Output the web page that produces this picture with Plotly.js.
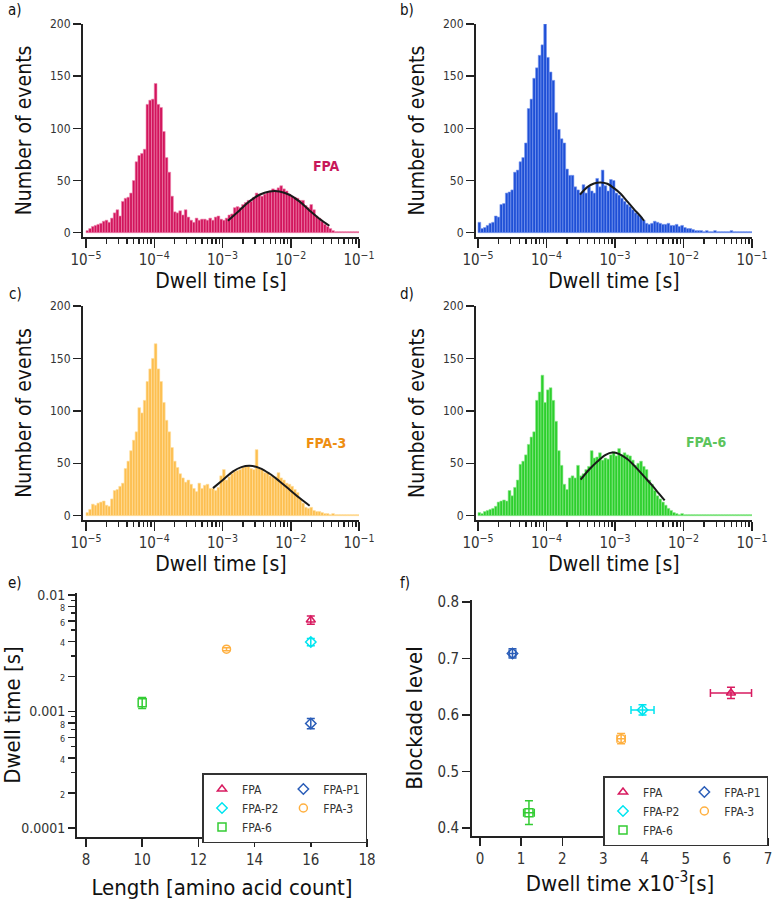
<!DOCTYPE html>
<html>
<head>
<meta charset="utf-8">
<script src="https://cdn.plot.ly/plotly-3.0.1.min.js"></script>
<style>html,body{margin:0;padding:0;background:#fff}#chart{width:774px;height:900px}</style>
</head>
<body>
<div id="chart"></div>
<script>
// ---------- DATA ----------
// Histogram counts: 100 log-spaced bins from 1e-5 s to 1e-1 s (25 bins per decade)
const countsFPA = [
  2,4,6,7,8,9,11,12,10,14,
  19,22,16,30,33,34,38,50,68,74,
  76,80,123,127,128,143,123,120,97,72,
  58,35,20,19,21,17,22,15,12,10,
  14,12,13,13,12,14,12,15,16,13,
  12,14,17,18,24,25,24,27,29,31,
  30,34,38,36,35,37,39,40,42,41,
  43,45,42,40,37,35,34,33,31,31,
  26,24,27,22,16,14,11,8,6,4,
  2,1,1,1,1,1,1,1,1,1];
const countsFPAP1 = [
  10,4,5,7,9,10,16,15,27,28,
  38,39,41,58,60,68,72,86,119,128,
  148,158,170,180,200,168,154,146,115,99,
  90,86,61,55,55,44,41,38,46,38,
  44,40,38,52,44,60,45,40,51,50,
  38,36,33,30,27,25,22,19,17,15,
  12,9,8,9,11,10,9,8,8,9,
  7,7,8,6,7,5,4,4,3,2,
  2,2,1,2,1,1,2,1,1,1,
  1,1,2,1,1,1,1,1,1,1];
const countsFPA3 = [
  3,6,11,10,12,13,14,10,9,16,
  24,25,28,31,45,52,62,72,80,103,
  98,110,128,140,150,164,140,128,108,91,
  80,65,52,46,40,36,32,34,30,26,
  23,31,26,29,30,26,26,24,27,38,
  44,34,37,40,42,43,44,46,47,47,
  45,44,63,45,44,41,41,38,37,37,
  41,36,34,31,30,28,25,22,16,12,
  8,7,8,5,4,4,3,2,2,1,
  2,1,1,1,1,1,1,1,1,1];
const countsFPA6 = [
  3,2,4,5,6,7,9,13,14,15,
  14,24,19,27,34,49,52,58,68,75,
  80,110,118,134,108,120,122,110,90,62,
  48,30,25,36,38,36,48,38,40,44,
  47,62,55,56,60,53,55,54,58,61,
  57,64,58,60,58,57,53,48,50,52,
  47,44,34,30,24,19,16,13,10,7,
  5,3,2,1,2,1,1,1,1,1,
  1,1,1,1,1,1,1,1,1,1,
  1,1,1,1,1,1,1,1,1,1];

// Fitted curves: dwell time [s], count
const fitFPA_x = [0.0012,0.00177,0.00248,0.00348,0.00488,0.00683,0.00955,0.0134,0.0188,0.0263,0.0368];
const fitFPA_y = [11.5,21.4,30,36.4,39.6,39.6,36.4,30,21.4,13.4,6.7];
const fitP1_x = [0.000308,0.000394,0.000493,0.000618,0.000773,0.000966,0.00121,0.00151,0.00189,0.00237,0.00265];
const fitP1_y = [36.4,43.7,47.2,48.2,46.9,42.7,37.3,30.0,22.6,15.6,11.5];
const fit3_x = [0.000726,0.00102,0.00143,0.00189,0.0025,0.00351,0.00491,0.00689,0.00964,0.0135,0.0189];
const fit3_y = [26.3,34.3,42.2,46.3,47.6,45.4,40,32.7,24.8,16.8,9.5];
const fit6_x = [0.000315,0.000417,0.000552,0.000731,0.000914,0.00114,0.00151,0.002,0.00265,0.00351,0.00439,0.00531];
const fit6_y = [34.3,43.8,51.7,58.1,60.3,59,54,46.3,37.5,28.6,21,14.6];

// Summary panels
const peptides   = ['FPA','FPA-P1','FPA-P2','FPA-3','FPA-6'];
const lengthAA   = [16,16,16,13,10];
const dwellMs    = [6.1,0.79,3.95,3.43,1.19];
const dwellErrMs = [0.5,0.08,0.28,0.1,0.13];
const blockade   = [0.639,0.709,0.609,0.558,0.427];
const blockErr   = [0.010,0.008,0.009,0.009,0.021];

// ---------- STYLE ----------
const W = 774, H = 900;
const FONT = "'DejaVu Sans Condensed', 'DejaVu Sans', sans-serif";
const pepColors  = ['#D81B60','#2A5DB8','#00E5F0','#FFB040','#33CC33'];
const pepSymbols = ['triangle-up-open','diamond-open','diamond-open','circle-open','square-open'];
const pepGroup   = ['c1','c2','c1','c2','c1'];

const BIN_LOG_START = -5, BIN_LOG_WIDTH = 0.04;
function binGeom(n){
  const mid=[], wid=[];
  for(let i=0;i<n;i++){
    const a=Math.pow(10,BIN_LOG_START+BIN_LOG_WIDTH*i), b=Math.pow(10,BIN_LOG_START+BIN_LOG_WIDTH*(i+1));
    mid.push((a+b)/2); wid.push(b-a);
  }
  return {mid,wid};
}
const xd=(a,b)=>[a/W,b/W];
const yd=(top,bot)=>[1-bot/H,1-top/H];

const traces=[];
function hist(counts, fx, fy, ax, fill, edge){
  const g=binGeom(counts.length);
  traces.push({type:'bar', x:g.mid, y:counts, width:g.wid, xaxis:'x'+ax, yaxis:'y'+ax,
    marker:{color:fill, line:{color:edge, width:0.6}}, showlegend:false, hoverinfo:'x+y'});
  traces.push({type:'scatter', mode:'lines', x:fx, y:fy, xaxis:'x'+ax, yaxis:'y'+ax,
    line:{color:'#1a1a1a', width:2, shape:'spline'}, showlegend:false});
}
hist(countsFPA,  fitFPA_x, fitFPA_y, '',  '#D2145C', '#EE86AE');
hist(countsFPAP1,fitP1_x,  fitP1_y,  '2', '#1E4FD6', '#7C9BF0');
hist(countsFPA3, fit3_x,   fit3_y,   '3', '#FDBF50', '#FFDFA0');
hist(countsFPA6, fit6_x,   fit6_y,   '4', '#2CCF2C', '#8FEA8F');

peptides.forEach((p,i)=>{
  traces.push({type:'scatter', mode:'markers', name:p, x:[lengthAA[i]], y:[dwellMs[i]/1000],
    xaxis:'x5', yaxis:'y5', legend:'legend', legendgroup:'e'+pepGroup[i],
    marker:{symbol:pepSymbols[i], color:pepColors[i], size:8, line:{width:1.5}},
    error_y:{type:'data', array:[dwellErrMs[i]/1000], color:pepColors[i], thickness:1.5, width:4}});
});
peptides.forEach((p,i)=>{
  traces.push({type:'scatter', mode:'markers', name:p, x:[dwellMs[i]], y:[blockade[i]],
    xaxis:'x6', yaxis:'y6', legend:'legend2', legendgroup:'f'+pepGroup[i],
    marker:{symbol:pepSymbols[i], color:pepColors[i], size:8, line:{width:1.5}},
    error_x:{type:'data', array:[dwellErrMs[i]], color:pepColors[i], thickness:1.5, width:4},
    error_y:{type:'data', array:[blockErr[i]], color:pepColors[i], thickness:1.5, width:4}});
});

// ---------- AXES ----------
const lineC='#222';
function histX(dom, anchor, r0){
  return {domain:dom, anchor:anchor, type:'log', range:[r0,-1], dtick:1, exponentformat:'power',
    showline:true, linecolor:lineC, linewidth:2, ticks:'outside', ticklen:9, tickwidth:1.5, tickcolor:lineC,
    minor:{dtick:'D1', ticks:'outside', ticklen:5, tickwidth:1.3, tickcolor:lineC, showgrid:false},
    showgrid:false, zeroline:false, tickfont:{family:FONT,size:12,color:'#333'},
    title:{text:'Dwell time [s]', font:{family:FONT,size:21,color:'#111'}, standoff:3}};
}
function histY(dom, anchor){
  return {domain:dom, anchor:anchor, range:[-4.1,200], tick0:0, dtick:50,
    showline:true, linecolor:lineC, linewidth:2, ticks:'outside', ticklen:8, tickwidth:1.5, tickcolor:lineC,
    showgrid:false, zeroline:false, tickfont:{family:FONT,size:12,color:'#333'},
    title:{text:'Number of events', font:{family:FONT,size:21,color:'#111'}, standoff:13}};
}
const sm=t=>'<span style="font-size:9px">'+t+'</span>';

const layout={
  width:W, height:H, margin:{l:0,r:0,t:0,b:0}, paper_bgcolor:'#fff', plot_bgcolor:'#fff',
  font:{family:FONT, color:'#222'}, showlegend:true, barmode:'overlay',
  xaxis:  histX(xd(83,359),  'y',  -5.044),
  yaxis:  histY(yd(24,237),  'x'),
  xaxis2: histX(xd(476,752), 'y2', -5.029),
  yaxis2: histY(yd(24,237),  'x2'),
  xaxis3: histX(xd(83,359),  'y3', -5.044),
  yaxis3: histY(yd(306,520), 'x3'),
  xaxis4: histX(xd(476,752), 'y4', -5.029),
  yaxis4: histY(yd(306,520), 'x4'),
  xaxis5: {domain:xd(77,367), anchor:'y5', range:[7.68,18], tick0:8, dtick:2,
    showline:true, linecolor:lineC, linewidth:2, ticks:'outside', ticklen:8, tickwidth:1.5, tickcolor:lineC,
    showgrid:false, zeroline:false, tickfont:{family:FONT,size:15,color:'#333'},
    title:{text:'Length [amino acid count]', font:{family:FONT,size:22,color:'#111'}, standoff:12}},
  yaxis5: {domain:yd(593,837), anchor:'x5', type:'log', range:[-4.077,-1.983],
    tickmode:'array',
    tickvals:[1e-4,2e-4,4e-4,6e-4,8e-4,1e-3,2e-3,4e-3,6e-3,8e-3,1e-2],
    ticktext:['0.0001',sm('2'),sm('4'),sm('6'),sm('8'),'0.001',sm('2'),sm('4'),sm('6'),sm('8'),'0.01'],
    minor:{tickmode:'array', tickvals:[3e-4,5e-4,7e-4,9e-4,3e-3,5e-3,7e-3,9e-3], ticks:'outside', ticklen:4, tickwidth:1.2, tickcolor:lineC},
    showline:true, linecolor:lineC, linewidth:2, ticks:'outside', ticklen:7, tickwidth:1.5, tickcolor:lineC,
    showgrid:false, zeroline:false, tickfont:{family:FONT,size:14,color:'#333'},
    title:{text:'Dwell time [s]', font:{family:FONT,size:22,color:'#111'}, standoff:3}},
  xaxis6: {domain:xd(472,768), anchor:'y6', range:[-0.194,7], tick0:0, dtick:1,
    showline:true, linecolor:lineC, linewidth:2, ticks:'outside', ticklen:8, tickwidth:1.5, tickcolor:lineC,
    showgrid:false, zeroline:false, tickfont:{family:FONT,size:15,color:'#333'},
    title:{text:'Dwell time x10<sup>-3</sup>[s]', font:{family:FONT,size:22,color:'#111'}, standoff:8}},
  yaxis6: {domain:yd(600,836), anchor:'x6', range:[0.3858,0.8035], tick0:0.4, dtick:0.1, tickformat:'.1f',
    showline:true, linecolor:lineC, linewidth:2, ticks:'outside', ticklen:8, tickwidth:1.5, tickcolor:lineC,
    showgrid:false, zeroline:false, tickfont:{family:FONT,size:15,color:'#333'},
    title:{text:'Blockade level', font:{family:FONT,size:22,color:'#111'}, standoff:9}},
  legend:{x:367/W, y:1-773/H, xanchor:'right', yanchor:'top', orientation:'h', traceorder:'grouped',
    bordercolor:'#333', borderwidth:1.5, bgcolor:'#fff', font:{family:FONT,size:12,color:'#333'}, itemwidth:30, tracegroupgap:0},
  legend2:{x:768/W, y:1-776/H, xanchor:'right', yanchor:'top', orientation:'h', traceorder:'grouped',
    bordercolor:'#333', borderwidth:1.5, bgcolor:'#fff', font:{family:FONT,size:12,color:'#333'}, itemwidth:30, tracegroupgap:0},
  annotations:[
    {text:'a)', x:15/W, y:1-10/H},
    {text:'b)', x:407/W, y:1-10/H},
    {text:'c)', x:15/W, y:1-294/H},
    {text:'d)', x:407/W, y:1-294/H},
    {text:'e)', x:15/W, y:1-583/H},
    {text:'f)', x:405/W, y:1-583/H},
  ].map(a=>Object.assign(a,{xref:'paper',yref:'paper',showarrow:false,xanchor:'center',yanchor:'middle',
      font:{family:FONT,size:15,color:'#111'}})).concat([
    {text:'<b>FPA</b>',   x:326/W, y:1-166/H, color:'#C8185A'},
    {text:'<b>FPA-3</b>', x:326/W, y:1-443/H, color:'#EE8E10'},
    {text:'<b>FPA-6</b>', x:706/W, y:1-442/H, color:'#5CC45C'},
  ].map(a=>({text:a.text,x:a.x,y:a.y,xref:'paper',yref:'paper',showarrow:false,xanchor:'center',yanchor:'middle',
      font:{family:FONT,size:14,color:a.color}})))
};

Plotly.newPlot('chart', traces, layout, {staticPlot:true, displayModeBar:false});
</script>
</body>
</html>
